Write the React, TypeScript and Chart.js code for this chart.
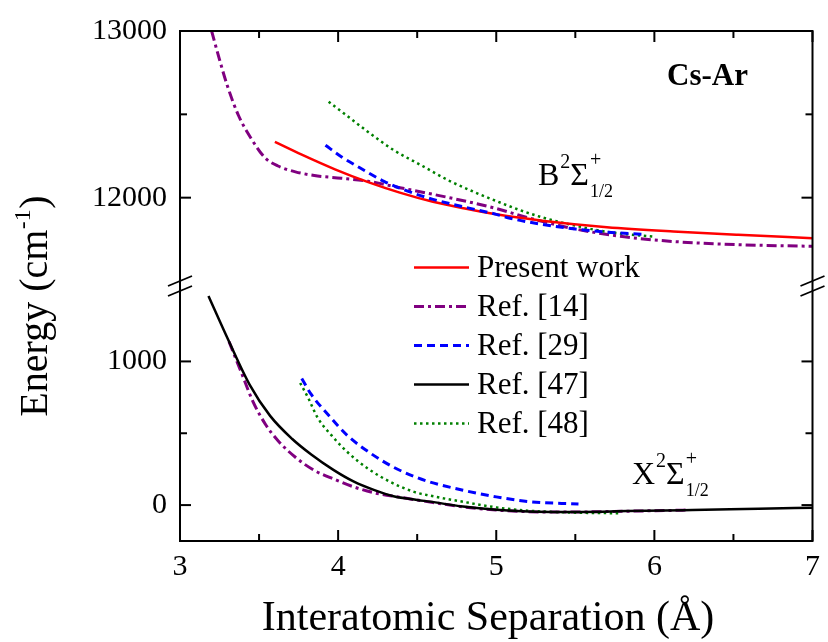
import React, { useEffect, useRef } from "react";
import { Chart, registerables } from "chart.js";

Chart.register(...registerables);

// ---------- Data (Interatomic separation in Å, energy in cm^-1) ----------
// B 2Σ+1/2 state (upper panel)
const presentWorkB_R = [3.6, 3.77, 3.98, 4.19, 4.39, 4.6, 4.81, 5.0, 5.29, 5.7, 6.12, 6.53, 7.0];
const presentWorkB_E = [12335, 12258, 12170, 12093, 12030, 11975, 11933, 11900, 11862, 11823, 11797, 11777, 11757];

const ref14B_R = [3.2, 3.25, 3.3, 3.37, 3.45, 3.54, 3.62, 3.73, 3.87, 4.02, 4.19, 4.39, 4.6, 4.81, 5.0, 5.2, 5.5, 5.81, 6.12, 6.53, 7.0];
const ref14B_E = [13000, 12828, 12670, 12493, 12355, 12237, 12190, 12155, 12130, 12117, 12098, 12060, 12020, 11978, 11935, 11880, 11812, 11765, 11737, 11718, 11708];

const ref29B_R = [3.92, 4.02, 4.14, 4.29, 4.44, 4.6, 4.81, 5.0, 5.08, 5.29, 5.5, 5.7, 5.93];
const ref29B_E = [12315, 12246, 12178, 12098, 12039, 11990, 11941, 11900, 11878, 11840, 11812, 11793, 11780];

const ref48B_R = [3.94, 4.04, 4.19, 4.35, 4.52, 4.71, 4.87, 5.0, 5.15, 5.29, 5.5, 5.7, 6.0];
const ref48B_E = [12576, 12503, 12394, 12286, 12197, 12098, 12030, 11980, 11925, 11882, 11832, 11795, 11765];

// X 2Σ+1/2 state (lower panel)
const ref14X_R = [3.31, 3.385, 3.46, 3.54, 3.62, 3.73, 3.85, 3.98, 4.1, 4.23, 4.39, 4.6, 4.8, 5.0, 5.2, 5.4, 5.8, 6.2];
const ref14X_E = [1138, 931, 724, 563, 448, 333, 241, 178, 126, 85, 55, 18, -14, -35, -46, -49, -43, -35];

const ref29X_R = [3.77, 3.83, 3.94, 4.06, 4.21, 4.35, 4.5, 4.58, 4.79, 5.0, 5.2, 5.52];
const ref29X_E = [881, 770, 625, 483, 357, 264, 191, 161, 103, 57, 25, 7];

const ref47X_R = [3.18, 3.31, 3.44, 3.57, 3.71, 3.83, 3.97, 4.1, 4.23, 4.35, 4.5, 4.58, 4.79, 5.0, 5.2, 5.41, 5.83, 6.24, 6.66, 7.0];
const ref47X_E = [1455, 1138, 839, 621, 460, 352, 245, 163, 104, 62, 36, 24, -10, -33, -45, -48, -42, -34, -25, -18];

const ref48X_R = [3.76, 3.81, 3.87, 3.96, 4.06, 4.19, 4.33, 4.48, 4.58, 4.79, 5.0, 5.2, 5.52, 5.79];
const ref48X_E = [850, 747, 609, 483, 368, 253, 161, 92, 66, 23, -16, -39, -53, -57];

// ---------- Axes ----------
const xMin = 3;
const xMax = 7;
const xTickValues = [3, 4, 5, 6, 7];
const xTickLabels = ["3", "4", "5", "6", "7"];
const xMinorTicks = [3.5, 4.5, 5.5, 6.5];

const upperMin = 11470;
const upperMax = 13000;
const upperTickValues = [12000, 13000];
const upperTickLabels = ["12000", "13000"];
const upperMinorTicks = [12500];

const lowerMin = -250;
const lowerMax = 1525;
const lowerTickValues = [0, 1000];
const lowerTickLabels = ["0", "1000"];
const lowerMinorTicks = [500];

const legendLabels = ["Present work", "Ref. [14]", "Ref. [29]", "Ref. [47]", "Ref. [48]"];
const xTitle = "Interatomic Separation (Å)";
const yTitleMain = "Energy (cm";
const yTitleSup = "-1";
const yTitleEnd = ")";
const systemLabel = "Cs-Ar";

const FONT = '"Liberation Serif", "Times New Roman", serif';

type Sty = { color: string; dash: number[]; width: number };
const STY: Record<string, Sty> = {
  pw: { color: "#ff0000", dash: [], width: 2.5 },
  r14: { color: "#800080", dash: [10, 4, 3, 4], width: 3 },
  r29: { color: "#0000ff", dash: [8, 5], width: 3 },
  r47: { color: "#000000", dash: [], width: 2.5 },
  r48: { color: "#008000", dash: [2.5, 3.5], width: 2.5 },
};
const legendKeys = ["pw", "r14", "r29", "r47", "r48"];

function ds(r: number[], e: number[], key: string, axis: string) {
  const s = STY[key];
  return {
    data: r.map((x, i) => ({ x, y: e[i] })),
    yAxisID: axis,
    xAxisID: "x",
    borderColor: s.color,
    borderWidth: s.width,
    borderDash: s.dash,
    pointRadius: 0,
    fill: false,
    cubicInterpolationMode: "monotone" as const,
  };
}

function line(ctx: CanvasRenderingContext2D, x1: number, y1: number, x2: number, y2: number) {
  ctx.beginPath();
  ctx.moveTo(x1, y1);
  ctx.lineTo(x2, y2);
  ctx.stroke();
}

function stateLabel(ctx: CanvasRenderingContext2D, letter: string, x: number, base: number) {
  ctx.textBaseline = "alphabetic";
  ctx.textAlign = "left";
  ctx.font = `32px ${FONT}`;
  ctx.fillText(letter, x, base);
  let cx = x + ctx.measureText(letter).width;
  ctx.font = `20px ${FONT}`;
  ctx.fillText("2", cx + 1, base - 17);
  cx += ctx.measureText("2").width + 1;
  ctx.font = `32px ${FONT}`;
  ctx.fillText("Σ", cx, base);
  cx += ctx.measureText("Σ").width + 1;
  ctx.font = `20px ${FONT}`;
  ctx.fillText("+", cx, base - 19);
  ctx.font = `18px ${FONT}`;
  ctx.fillText("1/2", cx, base + 12);
}

const decorPlugin = {
  id: "decor",
  afterDraw(chart: any) {
    const { ctx, chartArea: a, scales } = chart;
    const sx = scales.x;
    const yt = scales.yTop;
    const yb = scales.yBot;
    ctx.save();
    ctx.strokeStyle = "#000";
    ctx.fillStyle = "#000";
    ctx.lineWidth = 2;
    ctx.setLineDash([]);
    ctx.lineCap = "butt";
    // frame
    ctx.beginPath();
    ctx.rect(a.left, a.top, a.right - a.left, a.bottom - a.top);
    ctx.stroke();
    const MJ = 11;
    const MN = 7;
    // x ticks (bottom & top, inward)
    xTickValues.forEach((v) => {
      const p = sx.getPixelForValue(v);
      line(ctx, p, a.bottom, p, a.bottom - MJ);
      line(ctx, p, a.top, p, a.top + MJ);
    });
    xMinorTicks.forEach((v) => {
      const p = sx.getPixelForValue(v);
      line(ctx, p, a.bottom, p, a.bottom - MN);
      line(ctx, p, a.top, p, a.top + MN);
    });
    const yTicks = (sc: any, maj: number[], mn: number[]) => {
      maj.forEach((v) => {
        const p = sc.getPixelForValue(v);
        line(ctx, a.left, p, a.left + MJ, p);
        line(ctx, a.right, p, a.right - MJ, p);
      });
      mn.forEach((v) => {
        const p = sc.getPixelForValue(v);
        line(ctx, a.left, p, a.left + MN, p);
        line(ctx, a.right, p, a.right - MN, p);
      });
    };
    yTicks(yt, upperTickValues, upperMinorTicks);
    yTicks(yb, lowerTickValues, lowerMinorTicks);
    // axis break marks
    const yB = yt.bottom;
    [a.left, a.right].forEach((xe) => {
      ctx.lineWidth = 1.8;
      line(ctx, xe - 12, yB - 0, xe + 12, yB - 10);
      line(ctx, xe - 12, yB + 10, xe + 12, yB);
    });

    // legend
    ctx.textBaseline = "middle";
    ctx.textAlign = "left";
    legendKeys.forEach((k, i) => {
      const s = STY[k];
      const y = 267.5 + i * 39;
      ctx.strokeStyle = s.color;
      ctx.lineWidth = s.width;
      ctx.setLineDash(s.dash);
      line(ctx, 414, y, 469, y);
      ctx.setLineDash([]);
      ctx.fillStyle = "#000";
      ctx.font = `31px ${FONT}`;
      ctx.fillText(legendLabels[i], 477, y + 1);
    });

    ctx.fillStyle = "#000";
    // system label
    ctx.textBaseline = "alphabetic";
    ctx.font = `bold 31px ${FONT}`;
    ctx.fillText(systemLabel, 667, 85);

    // state labels
    stateLabel(ctx, "B", 538, 185);
    stateLabel(ctx, "X", 632, 484);

    // x title
    ctx.font = `42px ${FONT}`;
    ctx.textAlign = "center";
    ctx.textBaseline = "alphabetic";
    ctx.fillText(xTitle, 488, 630);

    // y title (rotated)
    ctx.save();
    ctx.translate(47, 306);
    ctx.rotate(-Math.PI / 2);
    ctx.textAlign = "left";
    ctx.font = `40px ${FONT}`;
    const w1 = ctx.measureText(yTitleMain).width;
    const w3 = ctx.measureText(yTitleEnd).width;
    ctx.font = `24px ${FONT}`;
    const w2 = ctx.measureText(yTitleSup).width;
    const total = w1 + w2 + w3 + 1;
    let cx = -total / 2;
    ctx.font = `40px ${FONT}`;
    ctx.fillText(yTitleMain, cx, 0);
    cx += w1;
    ctx.font = `24px ${FONT}`;
    ctx.fillText(yTitleSup, cx + 0.5, -17);
    cx += w2 + 1;
    ctx.font = `40px ${FONT}`;
    ctx.fillText(yTitleEnd, cx, 0);
    ctx.restore();

    ctx.restore();
  },
};

export default function App() {
  const ref = useRef<HTMLCanvasElement>(null);
  useEffect(() => {
    Chart.defaults.font.family = FONT;
    Chart.defaults.color = "#000";
    const chart = new Chart(ref.current as HTMLCanvasElement, {
      type: "line",
      data: {
        datasets: [
          ds(ref47X_R, ref47X_E, "r47", "yBot"),
          ds(ref29B_R, ref29B_E, "r29", "yTop"),
          ds(ref29X_R, ref29X_E, "r29", "yBot"),
          ds(presentWorkB_R, presentWorkB_E, "pw", "yTop"),
          ds(ref48B_R, ref48B_E, "r48", "yTop"),
          ds(ref48X_R, ref48X_E, "r48", "yBot"),
          ds(ref14B_R, ref14B_E, "r14", "yTop"),
          ds(ref14X_R, ref14X_E, "r14", "yBot"),
        ],
      },
      options: {
        responsive: false,
        animation: false,
        devicePixelRatio: 1,
        layout: { padding: { top: 24, right: 8, left: 0, bottom: 0 } },
        plugins: { legend: { display: false }, tooltip: { enabled: false } },
        scales: {
          x: {
            type: "linear",
            position: "bottom",
            min: xMin,
            max: xMax,
            grid: { display: false, drawTicks: false },
            border: { display: false },
            afterBuildTicks: (s: any) => {
              s.ticks = xTickValues.map((v) => ({ value: v }));
            },
            afterFit: (s: any) => {
              s.height = 101;
            },
            ticks: {
              autoSkip: false,
              maxRotation: 0,
              padding: 8,
              font: { size: 30 },
              callback: (v: any) => xTickLabels[xTickValues.indexOf(Number(v))],
            },
          },
          yTop: {
            type: "linear",
            position: "left",
            stack: "energy",
            stackWeight: 1,
            weight: 2,
            min: upperMin,
            max: upperMax,
            grid: { display: false, drawTicks: false },
            border: { display: false },
            afterBuildTicks: (s: any) => {
              s.ticks = upperTickValues.map((v) => ({ value: v }));
            },
            afterFit: (s: any) => {
              s.width = 180;
            },
            ticks: {
              autoSkip: false,
              padding: 13,
              font: { size: 30 },
              callback: (v: any) => upperTickLabels[upperTickValues.indexOf(Number(v))],
            },
          },
          yBot: {
            type: "linear",
            position: "left",
            stack: "energy",
            stackWeight: 1,
            weight: 1,
            min: lowerMin,
            max: lowerMax,
            grid: { display: false, drawTicks: false },
            border: { display: false },
            afterBuildTicks: (s: any) => {
              s.ticks = lowerTickValues.map((v) => ({ value: v }));
            },
            afterFit: (s: any) => {
              s.width = 180;
            },
            ticks: {
              autoSkip: false,
              padding: 13,
              font: { size: 30 },
              callback: (v: any) => lowerTickLabels[lowerTickValues.indexOf(Number(v))],
            },
          },
        },
      } as any,
      plugins: [decorPlugin],
    });
    return () => chart.destroy();
  }, []);
  return (
    <div style={{ position: "absolute", left: 0, top: 0, width: 828, height: 642, background: "#fff" }}>
      <canvas ref={ref} width={828} height={642} style={{ display: "block", width: 828, height: 642 }} />
    </div>
  );
}
